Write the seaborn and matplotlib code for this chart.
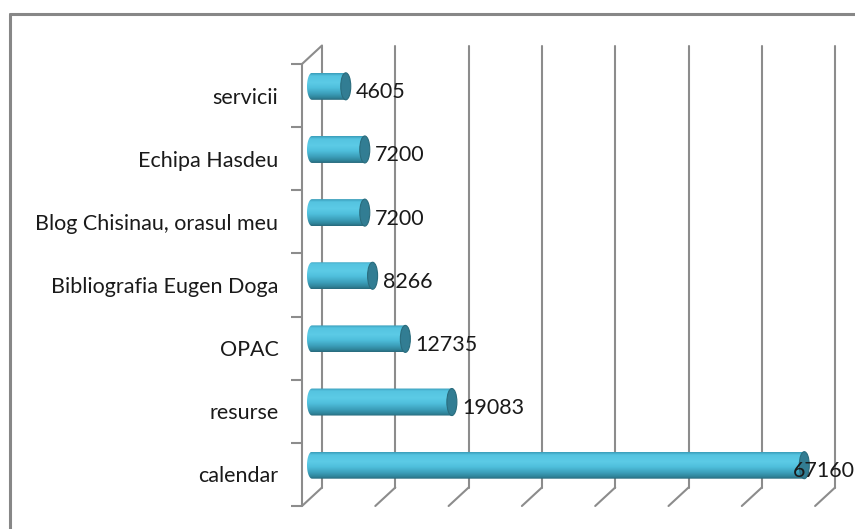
import numpy as np
import pandas as pd
import seaborn as sns
import matplotlib.pyplot as plt
from matplotlib.colors import LinearSegmentedColormap
from matplotlib.patches import Ellipse, PathPatch
from matplotlib.path import Path
from matplotlib.lines import Line2D

# Date
categorii = ['servicii', 'Echipa Hasdeu', 'Blog Chisinau, orasul meu',
             'Bibliografia Eugen Doga', 'OPAC', 'resurse', 'calendar']
vizite = [4605, 7200, 7200, 8266, 12735, 19083, 67160]
grila = [0, 10000, 20000, 30000, 40000, 50000, 60000, 70000]

sns.set_style('white')
plt.rcParams['font.family'] = ['Lato', 'DejaVu Sans']

W, H = 855, 529
fig = plt.figure(figsize=(W / 100, H / 100), dpi=100)

# zona graficului (planul din fata), in pixeli
st_px, dr_px, sus_px, jos_px = 302, 855, 64, 506
ax = fig.add_axes([st_px / W, (H - jos_px) / H, (dr_px - st_px) / W, (jos_px - sus_px) / H])

px_x = 73.3 / 10000                 # pixeli pe unitate (x)
px_y = (jos_px - sus_px) / len(categorii)
xmax = (dr_px - st_px) / px_x
DX = 20 / px_x                      # adancimea 3D
DY = -18.5 / px_y
gri = '#8c8c8c'

df = pd.DataFrame({'categorie': categorii, 'vizite': vizite})
sns.barplot(data=df, x='vizite', y='categorie', orient='h', color='#4bbcd9',
            saturation=1, width=27 / px_y, errorbar=None, ax=ax, zorder=2)

# perete spate + podea
for g in grila:
    ax.plot([g + DX, g + DX], [-0.5 + DY, 6.5 + DY], color=gri, lw=1.5, clip_on=False, zorder=1)
    ax.plot([g, g + DX], [6.5, 6.5 + DY], color=gri, lw=1.5, clip_on=False, zorder=1)
ax.plot([0, DX], [-0.5, -0.5 + DY], color=gri, lw=1.5, clip_on=False, zorder=1)
ax.plot([0, 0], [-0.5, 6.5], color=gri, lw=1.5, clip_on=False, zorder=1)

# cilindri
cmap = LinearSegmentedColormap.from_list('cil', [
    (0.0, '#3a9dba'), (0.1, '#55c4e0'), (0.35, '#5ccbe6'), (0.55, '#4fbfdc'),
    (0.78, '#3b9db8'), (0.92, '#2f8399'), (1.0, '#286a7c')])
grad = np.linspace(0, 1, 80).reshape(-1, 1)
rx = 5 / px_x

for p in ax.patches[:len(vizite)]:
    bx, by, bw, bh = p.get_x() + DX / 2, p.get_y() + DY / 2, p.get_width(), p.get_height()
    p.set_x(bx)
    p.set_y(by)
    yc = by + bh / 2
    t = np.linspace(-np.pi / 2, np.pi / 2, 40)
    verts = [(bx - rx * np.cos(a), yc + bh / 2 * np.sin(a)) for a in t]
    verts += [(bx + bw, yc + bh / 2), (bx + bw, yc - bh / 2), verts[0]]
    clip = PathPatch(Path(verts, closed=True), facecolor='none', edgecolor='none')
    ax.add_patch(clip)
    im = ax.imshow(grad, cmap=cmap, extent=(bx - rx, bx + bw, yc + bh / 2, yc - bh / 2),
                   aspect='auto', origin='upper', interpolation='bilinear', zorder=3)
    im.set_clip_path(clip)
    p.set_visible(False)
    ax.add_patch(Ellipse((bx + bw, yc), 2 * rx, bh, facecolor='#327d93',
                         edgecolor='#2a6c7d', lw=0.8, zorder=4))

# etichete valori
etichete = []
for i, v in enumerate(vizite):
    t = ax.text(v + DX / 2 + rx + 5 / px_x, i + DY / 2 + 6 / px_y, str(v),
                ha='left', va='center', fontsize=15.5, color='#1a1a1a', clip_on=False, zorder=5)
    etichete.append(t)

ax.set_xlim(0, xmax)
ax.set_ylim(6.5, -0.5)
ax.set_xticks([])
ax.set_yticks(range(len(categorii)))
ax.set_yticklabels(categorii, fontsize=15.5, color='#1a1a1a')
ax.set_yticks(np.arange(-0.5, len(categorii) + 0.5, 1), minor=True)
ax.tick_params(axis='y', which='major', length=0, pad=17)
ax.tick_params(axis='y', which='minor', left=True, length=8, width=1.5, color=gri)
ax.set_xlabel('')
ax.set_ylabel('')
for s in ax.spines.values():
    s.set_visible(False)
ax.patch.set_alpha(0)

# eticheta care iese din grafic se muta spre stanga
fig.canvas.draw()
for t in etichete:
    bb = t.get_window_extent()
    if bb.x1 > W:
        x, y = t.get_position()
        t.set_position((x - (bb.x1 - W) / px_x, y))

# chenar
fig.add_artist(Line2D([9.5 / W, 9.5 / W], [0, (H - 13.5) / H], transform=fig.transFigure,
                      color='#878787', lw=2.2))
fig.add_artist(Line2D([9.5 / W, 1], [(H - 13.5) / H, (H - 13.5) / H], transform=fig.transFigure,
                      color='#878787', lw=2.2))

fig.savefig('out.png', dpi=100)
